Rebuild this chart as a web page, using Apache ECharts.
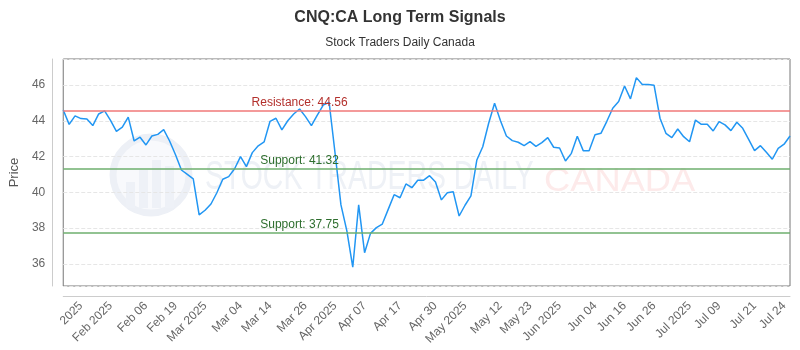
<!DOCTYPE html>
<html>
<head>
<meta charset="utf-8">
<script src="https://cdn.jsdelivr.net/npm/echarts@6/dist/echarts.min.js"></script>
<style>
  html, body { margin: 0; padding: 0; background: #fff; }
  #chart { width: 800px; height: 350px; }
</style>
</head>
<body>
<div id="chart"></div>
<script>
// closing prices, one per point
const prices = [
  44.60, 43.80, 44.27, 44.12, 44.10, 43.73, 44.38, 44.55, 44.02, 43.41,
  43.64, 44.20, 42.87, 43.08, 42.65, 43.15, 43.24, 43.50, 42.87, 42.10,
  41.25, 41.00, 40.75, 38.74, 39.00, 39.35, 39.98, 40.73, 40.88, 41.32,
  42.00, 41.44, 42.22, 42.60, 42.82, 43.97, 44.14, 43.49, 44.00, 44.38,
  44.66, 44.23, 43.73, 44.32, 44.88, 45.03, 42.20, 39.30, 37.85, 35.82,
  39.30, 36.63, 37.71, 38.03, 38.23, 39.05, 39.87, 39.70, 40.47, 40.26,
  40.68, 40.68, 40.93, 40.58, 39.58, 39.98, 40.04, 38.68, 39.28, 39.80,
  41.81, 42.55, 43.86, 44.98, 44.00, 43.15, 42.89, 42.80, 42.61, 42.83,
  42.57, 42.78, 43.06, 42.52, 42.48, 41.75, 42.18, 43.13, 42.33, 42.33,
  43.22, 43.30, 43.97, 44.70, 45.07, 45.94, 45.22, 46.41, 46.02, 46.02,
  45.98, 44.14, 43.30, 43.06, 43.54, 43.11, 42.83, 44.04, 43.80, 43.80,
  43.43, 43.95, 43.77, 43.45, 43.92, 43.58, 42.96, 42.33, 42.61, 42.24,
  41.85, 42.46, 42.69, 43.15
];

// x axis labels and the point each one sits on
const tickLabels = ['2025', 'Feb 2025', 'Feb 06', 'Feb 19', 'Mar 2025', 'Mar 04', 'Mar 14', 'Mar 26',
  'Apr 2025', 'Apr 07', 'Apr 17', 'Apr 30', 'May 2025', 'May 12', 'May 23', 'Jun 2025',
  'Jun 04', 'Jun 16', 'Jun 26', 'Jul 2025', 'Jul 09', 'Jul 21', 'Jul 24'];
const tickIdx = [3, 8, 14, 19, 24, 30, 35, 41, 46, 51, 57, 63, 68, 74, 79, 84, 90, 95, 100, 106, 111, 117, 122];

const resistance = 44.56;
const supports = [41.32, 37.75];

const FONT = '"Liberation Sans", Arial, sans-serif';

const xData = prices.map((p, i) => {
  const j = tickIdx.indexOf(i);
  return j >= 0 ? tickLabels[j] : 'p' + i;
});

// horizontal level with its caption centred over the left part of the plot
function level(value, text, lineColor, textColor) {
  return [
    { yAxis: value, lineStyle: { color: lineColor, width: 2, type: 'solid' }, label: { show: false } },
    [
      {
        coord: [xData[0], value],
        lineStyle: { color: 'rgba(0,0,0,0)', width: 0 },
        label: {
          show: true, position: 'insideMiddleTop', distance: 2,
          formatter: text, color: textColor, fontSize: 12, fontFamily: FONT
        }
      },
      { coord: [xData[80], value] }
    ]
  ];
}

const chart = echarts.init(document.getElementById('chart'));

chart.setOption({
  animation: false,
  textStyle: { fontFamily: FONT },
  title: {
    text: 'CNQ:CA Long Term Signals',
    subtext: 'Stock Traders Daily Canada',
    left: 'center',
    top: 5,
    itemGap: 11,
    textStyle: { fontSize: 16, fontWeight: 'bold', color: '#333', fontFamily: FONT },
    subtextStyle: { fontSize: 12, color: '#333', fontFamily: FONT }
  },
  graphic: [
    {
      type: 'circle', z: 0, silent: true,
      shape: { cx: 151, cy: 175, r: 38 },
      style: { fill: '#f8f9fc', stroke: '#edf0f6', lineWidth: 7 }
    },
    { type: 'rect', z: 0, silent: true, shape: { x: 126, y: 182, width: 9, height: 26 }, style: { fill: '#eef1f7' } },
    { type: 'rect', z: 0, silent: true, shape: { x: 139, y: 170, width: 9, height: 38 }, style: { fill: '#eef1f7' } },
    { type: 'rect', z: 0, silent: true, shape: { x: 152, y: 160, width: 9, height: 48 }, style: { fill: '#eef1f7' } },
    { type: 'rect', z: 0, silent: true, shape: { x: 165, y: 166, width: 9, height: 42 }, style: { fill: '#eef1f7' } },
    {
      type: 'text', z: 0, silent: true, x: 205, y: 158, scaleX: 0.71,
      style: { text: 'STOCK TRADERS DAILY', fill: '#eef1f6', font: '40px ' + FONT, textAlign: 'left' }
    },
    {
      type: 'text', z: 0, silent: true, x: 544, y: 165, scaleX: 1.1,
      style: { text: 'CANADA', fill: '#fdeaea', font: '33px ' + FONT, textAlign: 'left' }
    }
  ],
  grid: {
    left: 61, right: 10, top: 59, bottom: 64,
    show: true, borderColor: '#777', borderWidth: 1, backgroundColor: 'transparent'
  },
  xAxis: {
    type: 'category',
    data: xData,
    boundaryGap: false,
    offset: 10,
    axisLine: { lineStyle: { color: '#ccc' } },
    axisTick: { show: false },
    axisLabel: {
      rotate: 45, color: '#666', fontSize: 12, margin: 8,
      interval: (i) => tickIdx.includes(i)
    },
    splitLine: { show: false }
  },
  yAxis: {
    type: 'value',
    min: 34.77,
    max: 47.45,
    splitNumber: 6,
    offset: 11,
    name: 'Price',
    nameLocation: 'middle',
    nameGap: 28,
    nameTextStyle: { fontSize: 13, color: '#555' },
    axisLine: { show: true, lineStyle: { color: '#ccc' } },
    axisTick: { show: false },
    axisLabel: { color: '#666', fontSize: 12, margin: 7, showMinLabel: false, showMaxLabel: false },
    splitLine: { lineStyle: { type: 'dashed', color: '#e6e6e6' } }
  },
  series: [{
    type: 'line',
    data: prices,
    symbol: 'none',
    lineStyle: { color: '#2196f3', width: 1.5 },
    emphasis: { disabled: true },
    z: 3,
    markLine: {
      silent: true,
      symbol: ['none', 'none'],
      data: [
        ...level(resistance, 'Resistance: ' + resistance, 'rgba(240,120,120,0.75)', '#b3302c'),
        ...level(supports[0], 'Support: ' + supports[0], 'rgba(110,175,110,0.75)', '#2e6e2e'),
        ...level(supports[1], 'Support: ' + supports[1], 'rgba(110,175,110,0.75)', '#2e6e2e')
      ]
    }
  }]
});
</script>
</body>
</html>
